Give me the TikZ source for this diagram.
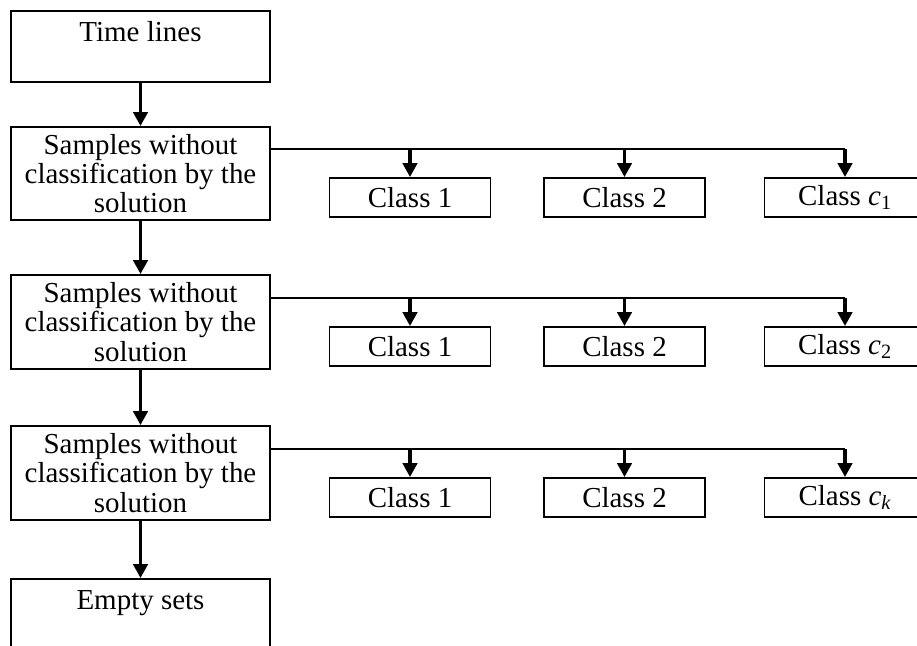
\documentclass[tikz,border=0pt]{standalone}
\usepackage{fontspec}
\setmainfont{Liberation Serif}
\usetikzlibrary{arrows.meta}

\begin{document}
\begin{tikzpicture}[
		font=\fontsize{20.6}{20.8}\selectfont,
		leftbox/.style={draw, line width=1.4pt, minimum width=6.475cm, inner sep=0pt, align=center},
		classbox/.style={draw, line width=1.4pt, minimum width=4.025cm, minimum height=0.975cm, inner sep=0pt},
		arr/.style={line width=2.4pt, -{Triangle[length=0.35cm,width=0.36cm]}},
		hline/.style={line width=1.6pt}]
		\useasboundingbox (0,0) rectangle (22.925,-16.125);
		% column of sample sets
		\node[leftbox, minimum height=1.775cm] (time) at (3.5125,-1.1625) {Time lines\\~};
		\node[leftbox, minimum height=2.325cm] (samp1) at (3.5125,-4.3375) {Samples without\\classification by the\\solution};
		\node[leftbox, minimum height=2.35cm] (samp2) at (3.5125,-8.05) {Samples without\\classification by the\\solution};
		\node[leftbox, minimum height=2.35cm] (samp3) at (3.5125,-11.825) {Samples without\\classification by the\\solution};
		\node[leftbox, minimum height=1.775cm] (empty) at (3.5125,-15.3625) {Empty sets\\~};
		\draw[arr] (time) -- (samp1);
		\draw[arr] (samp1) -- (samp2);
		\draw[arr] (samp2) -- (samp3);
		\draw[arr] (samp3) -- (empty);
		% classes
		\coordinate (h1) at (0,-3.725);
		\coordinate (h2) at (0,-7.45);
		\coordinate (h3) at (0,-11.225);
		\node[classbox] (c11) at (10.25,-4.9375) {Class 1};
		\node[classbox] (c12) at (15.6125,-4.9375) {Class 2};
		\node[classbox] (c13) at (21.125,-4.9375) {Class \textit{c}\textsubscript{1}};
		\node[classbox] (c21) at (10.25,-8.6625) {Class 1};
		\node[classbox] (c22) at (15.6125,-8.6625) {Class 2};
		\node[classbox] (c23) at (21.125,-8.6625) {Class \textit{c}\textsubscript{2}};
		\node[classbox] (c31) at (10.25,-12.4375) {Class 1};
		\node[classbox] (c32) at (15.6125,-12.4375) {Class 2};
		\node[classbox] (c33) at (21.125,-12.4375) {Class \textit{c}\textsubscript{\textit{k}}};
		\draw[hline] (samp1.east |- h1) -- (c13.north |- h1);
		\draw[hline] (samp2.east |- h2) -- (c23.north |- h2);
		\draw[hline] (samp3.east |- h3) -- (c33.north |- h3);
		\draw[arr] (c11.north |- h1) -- (c11);
		\draw[arr] (c12.north |- h1) -- (c12);
		\draw[arr] (c13.north |- h1) -- (c13);
		\draw[arr] (c21.north |- h2) -- (c21);
		\draw[arr] (c22.north |- h2) -- (c22);
		\draw[arr] (c23.north |- h2) -- (c23);
		\draw[arr] (c31.north |- h3) -- (c31);
		\draw[arr] (c32.north |- h3) -- (c32);
		\draw[arr] (c33.north |- h3) -- (c33);
	\end{tikzpicture}
\end{document}
